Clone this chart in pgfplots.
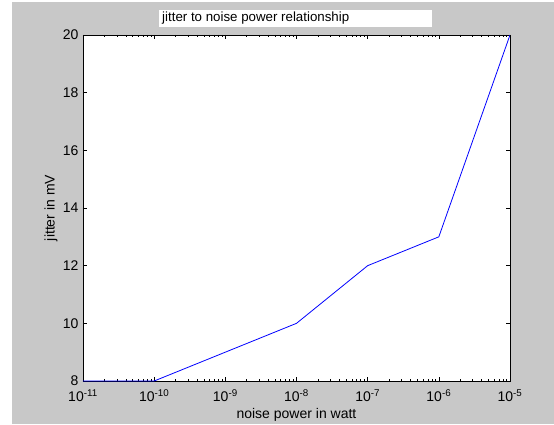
\documentclass[border=0pt]{standalone}
\usepackage{pgfplots}
\pgfplotsset{compat=1.18}
\usepackage{fontspec}
\setmainfont{Liberation Sans}
\setsansfont{Liberation Sans}
\definecolor{figgray}{RGB}{200,200,200}
\begin{document}
\begin{tikzpicture}[x=1pt,y=1pt]
  % page and figure background
  \path[use as bounding box] (0,0) rectangle (554,424);
  \fill[figgray] (12,0) rectangle (554,422);
  % title box
  \fill[white] (159,397) rectangle (432,414);
  \node[anchor=west, inner sep=0pt, font=\fontsize{13.3}{15}\selectfont] at (162,405.5) {jitter to noise power relationship};
  \begin{axis}[
      at={(83pt,43pt)}, anchor=south west,
      scale only axis,
      width=427pt, height=346pt,
      xmode=log,
      xmin=1e-11, xmax=1e-5,
      ymin=8, ymax=20,
      ytick={8,10,12,14,16,18,20},
      xtick={1e-11,1e-10,1e-9,1e-8,1e-7,1e-6,1e-5},
      xticklabels={10\textsuperscript{-11},10\textsuperscript{-10},10\textsuperscript{-9},
        10\textsuperscript{-8},10\textsuperscript{-7},10\textsuperscript{-6},10\textsuperscript{-5}},
      minor xtick={2e-11,3e-11,4e-11,5e-11,6e-11,7e-11,8e-11,9e-11,
        2e-10,3e-10,4e-10,5e-10,6e-10,7e-10,8e-10,9e-10,
        2e-9,3e-9,4e-9,5e-9,6e-9,7e-9,8e-9,9e-9,
        2e-8,3e-8,4e-8,5e-8,6e-8,7e-8,8e-8,9e-8,
        2e-7,3e-7,4e-7,5e-7,6e-7,7e-7,8e-7,9e-7,
        2e-6,3e-6,4e-6,5e-6,6e-6,7e-6,8e-6,9e-6},
      axis background/.style={fill=white},
      axis line style={black, line width=0.8pt},
      tick style={black, line width=0.6pt},
      tick align=inside,
      major tick length=4pt,
      minor tick length=2.5pt,
      tick label style={font=\fontsize{14}{16}\selectfont},
      /pgf/number format/assume math mode=true,
      xticklabel style={yshift=-5pt},
      yticklabel style={xshift=-1pt},
      xlabel={noise power in watt},
      ylabel={jitter in mV},
      label style={font=\fontsize{14}{16}\selectfont},
      xlabel style={at={(axis description cs:0.5,-0.097)}, anchor=center},
      ylabel style={at={(axis description cs:-0.075,0.5)}, anchor=center},
    ]
    \addplot[blue, line width=0.8pt] coordinates {
      (1e-11, 8) (1e-10, 8) (1e-9, 9) (1e-8, 10)
      (1e-7, 12) (1e-6, 13) (1e-5, 20)
    };
  \end{axis}
\end{tikzpicture}
\end{document}
